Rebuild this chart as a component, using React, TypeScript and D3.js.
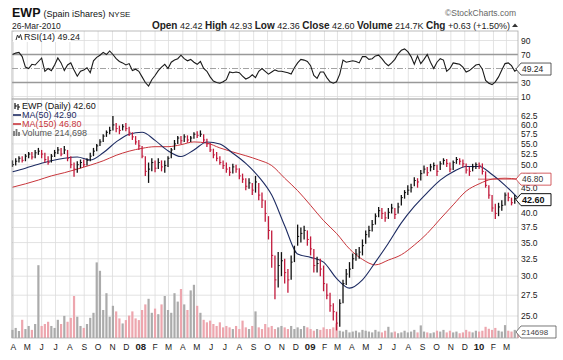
import * as d3 from 'd3';

// weekly samples, first bar = week ending 30-Mar-2007
const firstWeek = new Date(2007, 2, 30);

const closes = [
  50.0, 50.8, 51.5, 51.0, 52.0, 52.5, 51.8, 52.8, 53.2, 52.5, 51.2, 50.5, 52.0, 52.8, 53.5, 52.5, 53.5, 51.5, 50.0, 49.0,
  50.0, 50.5, 50.0, 51.0, 52.0, 53.2, 54.5, 55.5, 57.0, 58.0, 58.5, 60.0, 59.0, 58.5, 59.5, 59.0, 58.0, 56.8, 55.5, 54.5,
  52.0, 48.5, 49.0, 50.5, 49.2, 50.5, 49.5, 49.8, 51.5, 53.5, 55.0, 56.5, 55.8, 56.8, 56.0, 56.5, 57.5, 57.2, 57.5, 56.0,
  55.0, 53.5, 52.3, 51.5, 50.5, 49.8, 49.0, 48.3, 49.5, 49.0, 47.5, 46.8, 45.3, 46.0, 44.5, 46.2, 43.5, 42.5, 40.0, 37.0,
  33.0, 29.5, 31.5, 32.2, 30.5, 29.5, 32.0, 33.5, 36.0, 36.5, 37.0, 35.5, 34.0, 31.5, 31.8, 31.0, 29.0, 27.5, 26.2, 25.5,
  24.2, 26.5, 29.0, 30.3, 31.0, 32.5, 33.2, 33.5, 34.5, 36.3, 37.0, 38.0, 39.5, 40.5, 40.0, 39.2, 40.2, 41.0, 39.8, 41.2,
  43.0, 44.0, 44.5, 45.0, 46.5, 46.2, 48.0, 49.0, 48.2, 49.5, 49.8, 48.5, 50.2, 51.0, 50.3, 49.0, 50.5, 51.2, 50.8, 50.2,
  48.8, 48.5, 49.5, 50.0, 49.8, 48.5, 45.5, 43.5, 41.0, 40.0, 41.2, 41.5, 43.5, 43.0, 42.0, 42.8, 42.6,
];
const highs = [
  51.0, 51.5, 52.0, 52.0, 52.5, 53.0, 53.0, 53.5, 54.0, 53.5, 52.8, 52.0, 52.5, 53.5, 54.2, 54.0, 54.5, 53.5, 52.0, 50.5,
  50.8, 51.2, 51.2, 51.5, 52.8, 54.0, 55.0, 56.2, 57.5, 58.5, 59.5, 62.5, 60.5, 59.8, 60.2, 60.5, 59.5, 58.0, 57.0, 56.0,
  54.5, 52.0, 50.5, 51.5, 51.0, 51.5, 51.0, 51.0, 52.0, 54.0, 56.0, 57.0, 57.0, 57.5, 57.2, 57.0, 58.0, 58.3, 58.5, 57.5,
  56.3, 55.2, 53.8, 53.0, 52.0, 51.0, 50.5, 49.5, 50.2, 50.0, 49.2, 48.0, 47.0, 47.0, 46.0, 47.5, 46.0, 44.0, 42.5, 39.5,
  37.0, 33.0, 33.5, 33.5, 32.5, 31.0, 33.0, 34.5, 38.0, 37.5, 37.8, 37.0, 36.0, 34.0, 32.8, 32.5, 31.5, 29.0, 27.8, 26.5,
  25.5, 27.0, 29.5, 31.0, 32.0, 33.3, 34.0, 34.3, 35.5, 37.0, 37.8, 38.8, 40.0, 41.2, 41.0, 40.3, 41.0, 41.8, 41.0, 42.0,
  43.5, 44.5, 45.5, 45.8, 47.2, 47.0, 48.8, 49.8, 49.5, 50.2, 50.5, 50.0, 50.8, 51.5, 51.3, 50.5, 51.0, 51.8, 51.5, 51.2,
  50.3, 49.5, 50.2, 50.5, 50.5, 50.3, 48.5, 45.5, 43.5, 41.8, 42.0, 42.5, 44.0, 44.0, 43.0, 43.5, 42.93,
];
const lows = [
  49.5, 49.8, 50.5, 50.5, 50.8, 51.5, 51.2, 51.5, 52.3, 51.5, 50.5, 50.0, 50.5, 51.8, 52.5, 52.0, 52.5, 50.8, 49.2, 47.3,
  48.2, 49.2, 49.5, 49.8, 50.8, 52.0, 53.2, 54.5, 55.5, 56.8, 57.5, 58.5, 58.0, 57.5, 58.5, 58.3, 57.0, 56.0, 54.8, 53.5,
  51.5, 47.5, 46.0, 48.5, 48.3, 49.0, 48.5, 48.2, 49.5, 51.5, 53.5, 55.0, 55.0, 55.5, 55.3, 55.5, 56.3, 56.5, 56.8, 55.2,
  54.2, 53.0, 51.5, 50.8, 50.0, 49.0, 48.2, 47.5, 48.0, 48.2, 46.8, 46.0, 44.5, 44.8, 43.5, 44.0, 42.5, 41.0, 38.5, 35.5,
  31.2, 27.0, 28.5, 30.0, 29.0, 27.8, 29.5, 32.0, 34.5, 35.0, 35.5, 34.5, 33.0, 30.5, 30.5, 30.0, 28.0, 27.0, 25.5, 24.5,
  23.4, 23.8, 26.5, 28.8, 29.8, 31.0, 32.2, 32.5, 33.0, 34.8, 35.8, 36.8, 38.0, 39.3, 39.0, 38.5, 39.0, 40.0, 39.0, 40.0,
  41.5, 42.8, 43.5, 44.0, 45.3, 45.0, 46.5, 48.0, 47.5, 48.5, 48.8, 47.5, 48.8, 50.0, 49.5, 48.3, 48.8, 50.2, 50.0, 49.5,
  48.0, 47.5, 48.5, 49.0, 49.0, 47.8, 45.0, 42.8, 40.3, 39.0, 39.5, 40.5, 41.5, 42.3, 41.5, 41.8, 42.36,
];
// thousands of shares
const volumes = [
  290, 360, 250, 650, 320, 430, 290, 500, 2600, 430, 500, 580, 430, 360, 650, 500, 790, 580, 720, 1500,
  760, 430, 360, 500, 720, 900, 2700, 2400, 1000, 1600, 760, 1150, 950, 700, 520, 640, 800, 950, 700, 640,
  1000, 1200, 1400, 900, 1050, 850, 1200, 1500, 1000, 900, 1600, 1300, 1750, 1200, 1000, 1700, 1900, 1150, 900, 650,
  560, 620, 500, 430, 560, 380, 430, 380, 320, 430, 320, 620, 380, 320, 430, 950, 380, 320, 500, 380,
  430, 320, 380, 430, 380, 320, 430, 320, 380, 320, 430, 380, 320, 260, 320, 290, 380, 320, 320, 380,
  520, 260, 230, 290, 200, 230, 260, 200, 290, 260, 230, 200, 290, 230, 200, 260, 400, 200, 230, 170,
  200, 260, 200, 230, 290, 200, 450, 230, 200, 170, 200, 260, 230, 290, 200, 260, 200, 230, 170, 200,
  290, 230, 200, 260, 230, 260, 400, 330, 290, 360, 260, 230, 460, 260, 230, 290, 215,
];
const rsi = [
  70, 72, 73, 67, 52, 50, 56, 55, 60, 65, 46, 50, 47, 55, 65, 58, 47, 55, 58, 48,
  39, 46, 48, 51, 44, 61, 66, 69, 73, 70, 75, 70, 64, 60, 58, 55, 57, 47, 49, 46,
  38, 30, 25, 34, 40, 47, 52, 56, 50, 59, 62, 64, 69, 64, 61, 63, 59, 56, 60, 50,
  46, 38, 32, 30, 29, 31, 34, 45, 44, 45, 44, 39, 35, 37, 41, 37, 46, 50, 46, 42,
  45, 48, 46, 46, 45, 44, 42, 51, 58, 63, 62, 60, 54, 40, 36, 45, 45, 37, 31, 29,
  31, 42, 62, 59, 60, 61, 60, 58, 67, 67, 63, 64, 68, 69, 64, 58, 54, 58, 63, 71,
  76, 78, 74, 67, 56, 68, 57, 63, 70, 59, 50, 59, 64, 62, 46, 50, 58, 57, 56, 52,
  45, 47, 51, 55, 56, 49, 33, 29, 27, 31, 38, 48, 57, 58, 54, 46, 49.24,
];
// moving averages, read every 4th week
const ma50 = [
  48.4, 49.2, 50.1, 50.9, 51.5, 51.8, 51.1, 52.8, 55.5, 57.5, 58.0, 55.9, 53.3, 51.9, 53.5, 55.5, 55.0, 52.7, 50.3, 47.3,
  43.5, 37.8, 33.2, 32.7, 32.0, 29.7, 28.4, 29.5, 32.0, 34.9, 38.3, 41.3, 44.0, 46.6, 48.4, 49.6, 49.6, 47.8, 45.5, 42.9,
];
const ma150 = [
  45.1, 45.8, 46.6, 47.5, 48.2, 49.0, 49.9, 50.9, 52.2, 53.2, 53.9, 54.3, 54.3, 54.8, 55.5, 55.2, 54.0, 53.0, 52.1, 51.1,
  49.8, 47.0, 44.4, 41.5, 38.7, 36.5, 34.0, 32.4, 31.6, 32.3, 33.1, 34.6, 36.5, 39.0, 41.6, 44.3, 45.8, 46.8, 47.0, 46.8,
];
// 42.5 sits under the last-price box in the picture
const priceTicks = [62.5, 60, 57.5, 55, 52.5, 50, 47.5, 45, 40, 37.5, 35, 32.5, 30, 27.5, 25];
const priceGrid = [62.5, 60, 57.5, 55, 52.5, 50, 47.5, 45, 42.5, 40, 37.5, 35, 32.5, 30, 27.5, 25];
const rsiTicks = [90, 70, 30, 10];

const FONT = "'Liberation Sans', Arial, sans-serif";
const L = 12, R = 518;
const rsiTop = 31, rsiBot = 99, pTop = 99, pBot = 338;

const weekDate = (i: number) => d3.timeDay.offset(firstWeek, 7 * i);

export default function App() {
  const x = d3.scaleTime().domain([new Date(2007, 2, 29), new Date(2010, 2, 26)]).range([L, R]);
  const y = d3.scaleLog().domain([25, 62.5]).range([316, 116]);
  const ry = d3.scaleLinear().domain([30, 70]).range([82.5, 54.5]);
  const vy = d3.scaleLinear().domain([0, 3000]).range([pBot, pBot - 84]);

  const months = d3.timeMonth.range(new Date(2007, 3, 1), new Date(2010, 3, 1));
  const fmtM = d3.timeFormat('%b');

  const rsiLine = d3.line<number>().x((_, i) => x(weekDate(i))).y(d => ry(d));
  const maLine = d3.line<number>().x((_, i) => x(weekDate(i * 4))).y(d => y(d)).curve(d3.curveMonotoneX);

  const up = closes.map((c, i) => (i === 0 ? c >= 49.8 : c >= closes[i - 1]));
  const red = '#c21a3c';

  const arrowBox = (yc: number, w: number) => {
    const x0 = R - 2;
    return `M${x0},${yc} L${x0 + 5},${yc - 6} L${x0 + 5 + w},${yc - 6} L${x0 + 5 + w},${yc + 6} L${x0 + 5},${yc + 6} Z`;
  };

  return (
    <svg width={563} height={360} style={{ position: 'absolute', left: 0, top: 0, background: '#fff' }} fontFamily={FONT}>
      <rect width={563} height={360} fill="#fff" />
      {/* header */}
      <text x={12} y={17} fontSize={12.5} fontWeight="bold" fill="#111">EWP
        <tspan fontSize={9} fontWeight="normal" dx={3}>(Spain iShares)</tspan>
        <tspan fontSize={8} fontWeight="normal" dx={3}>NYSE</tspan>
      </text>
      <text x={516} y={16} fontSize={8.5} textAnchor="end" fill="#666">©StockCharts.com</text>
      <text x={12} y={28.5} fontSize={8.5} fill="#222">26-Mar-2010</text>
      <text x={510} y={28.5} fontSize={9} textAnchor="end" fill="#222">
        <tspan fontWeight="bold" fontSize={10}>Open</tspan> 42.42 <tspan fontWeight="bold" fontSize={10}>High</tspan> 42.93{' '}
        <tspan fontWeight="bold" fontSize={10}>Low</tspan> 42.36 <tspan fontWeight="bold" fontSize={10}>Close</tspan> 42.60{' '}
        <tspan fontWeight="bold" fontSize={10}>Volume</tspan> 214.7K <tspan fontWeight="bold" fontSize={10}>Chg</tspan> +0.63 (+1.50%)
      </text>
      <path d="M512,27 L515,23.5 L518,27 Z" fill="#333" />

      {/* RSI panel */}
      <g>
        {months.map((m, i) => (
          <line key={i} x1={x(m)} x2={x(m)} y1={rsiTop} y2={rsiBot} stroke="#dcdcdc" strokeWidth={0.8} />
        ))}
        {rsiTicks.map(t => (
          <line key={t} x1={L} x2={R} y1={ry(t)} y2={ry(t)} stroke={t === 70 || t === 30 ? '#999' : '#dcdcdc'} strokeWidth={t === 70 || t === 30 ? 1.4 : 0.8} />
        ))}
        <line x1={L} x2={R} y1={ry(50)} y2={ry(50)} stroke="#999" strokeWidth={0.9} strokeDasharray="6,2,1,2" />
        <path d={rsiLine(rsi) ?? ''} fill="none" stroke="#1a1a1a" strokeWidth={1.1} />
        <rect x={L + 1} y={rsiTop + 1} width={58} height={10} fill="#fff" />
        <path d="M16,40 L17.5,35 L19,38 L20.5,34.5 L22,40" fill="none" stroke="#333" strokeWidth={1} />
        <text x={24} y={40} fontSize={9} fill="#222">RSI(14) 49.24</text>
        <rect x={L} y={rsiTop} width={R - L} height={rsiBot - rsiTop} fill="none" stroke="#aaa" strokeWidth={0.8} />
        {rsiTicks.map(t => (
          <text key={t} x={521} y={ry(t) + 3} fontSize={8.5} fill="#222">{t}</text>
        ))}
        <path d={arrowBox(ry(49.24), 30)} fill="#fff" stroke="#333" strokeWidth={0.8} />
        <text x={522} y={ry(49.24) + 3} fontSize={8.5} fill="#222">49.24</text>
      </g>

      {/* price panel */}
      <g>
        {months.map((m, i) => (
          <line key={i} x1={x(m)} x2={x(m)} y1={pTop} y2={pBot} stroke="#dcdcdc" strokeWidth={0.8} />
        ))}
        {priceGrid.map(t => (
          <line key={t} x1={L} x2={R} y1={y(t)} y2={y(t)} stroke="#dcdcdc" strokeWidth={0.8} />
        ))}
        {volumes.map((v, i) => (
          <rect key={i} x={x(weekDate(i)) - 1.1} y={vy(v)} width={2.2} height={pBot - vy(v)}
            fill={up[i] ? '#ababab' : '#eda6ae'} />
        ))}
        <path d={maLine(ma150) ?? ''} fill="none" stroke="#c8353b" strokeWidth={1} />
        <path d={maLine(ma50) ?? ''} fill="none" stroke="#1d2b62" strokeWidth={1.1} />
        {closes.map((c, i) => {
          const xi = x(weekDate(i));
          const col = up[i] ? '#111' : red;
          return (
            <g key={i} stroke={col} strokeWidth={1.3}>
              <line x1={xi} x2={xi} y1={y(highs[i])} y2={y(lows[i])} />
              <line x1={xi} x2={xi + 1.5} y1={y(c)} y2={y(c)} strokeWidth={1} />
            </g>
          );
        })}
        <rect x={L} y={pTop} width={R - L} height={pBot - pTop} fill="none" stroke="#aaa" strokeWidth={0.8} />

        {/* legend */}
        <g fontSize={9}>
          <path d="M15,103 L15,109 M15,106 L17,106 M18,104 L18,110 M18,107 L20,107" stroke="#111" strokeWidth={1.2} />
          <text x={22} y={109} fill="#111">EWP (Daily) 42.60</text>
          <line x1={13} x2={21} y1={115} y2={115} stroke="#1d2b62" strokeWidth={1.6} />
          <text x={22} y={118} fill="#1d2b62">MA(50) 42.90</text>
          <line x1={13} x2={21} y1={124} y2={124} stroke="#c8353b" strokeWidth={1.6} />
          <text x={22} y={127} fill="#c8353b">MA(150) 46.80</text>
          <path d="M14,136 L14,131 M16.5,136 L16.5,129 M19,136 L19,132" stroke="#777" strokeWidth={1.8} />
          <text x={22} y={136} fill="#555">Volume 214,698</text>
        </g>

        {priceTicks.map(t => (
          <text key={t} x={521} y={y(t) + 3} fontSize={8.5} fill="#222">{t.toFixed(1)}</text>
        ))}
        <line x1={R - 40} x2={R} y1={y(46.8)} y2={y(46.8)} stroke="#c8353b" strokeWidth={0.8} />
        <path d={arrowBox(y(46.8), 30)} fill="#fff" stroke="#c8353b" strokeWidth={0.8} />
        <text x={522} y={y(46.8) + 3} fontSize={8.5} fill="#333">46.80</text>
        <path d={arrowBox(y(42.6), 30)} fill="#fff" stroke="#111" strokeWidth={1} />
        <text x={522} y={y(42.6) + 3.2} fontSize={9} fontWeight="bold" fill="#111">42.60</text>
        <path d={arrowBox(vy(214.7), 35)} fill="#fff" stroke="#555" strokeWidth={0.8} />
        <text x={521.5} y={vy(214.7) + 3} fontSize={8} fill="#444">214698</text>
      </g>

      {/* x axis */}
      {months.map((m, i) => {
        const jan = m.getMonth() === 0;
        return (
          <text key={i} x={x(m)} y={350} fontSize={jan ? 9.5 : 8.5} fontWeight={jan ? 'bold' : 'normal'}
            textAnchor="middle" fill="#222">
            {jan ? d3.timeFormat('%y')(m) : fmtM(m)[0]}
          </text>
        );
      })}
    </svg>
  );
}
